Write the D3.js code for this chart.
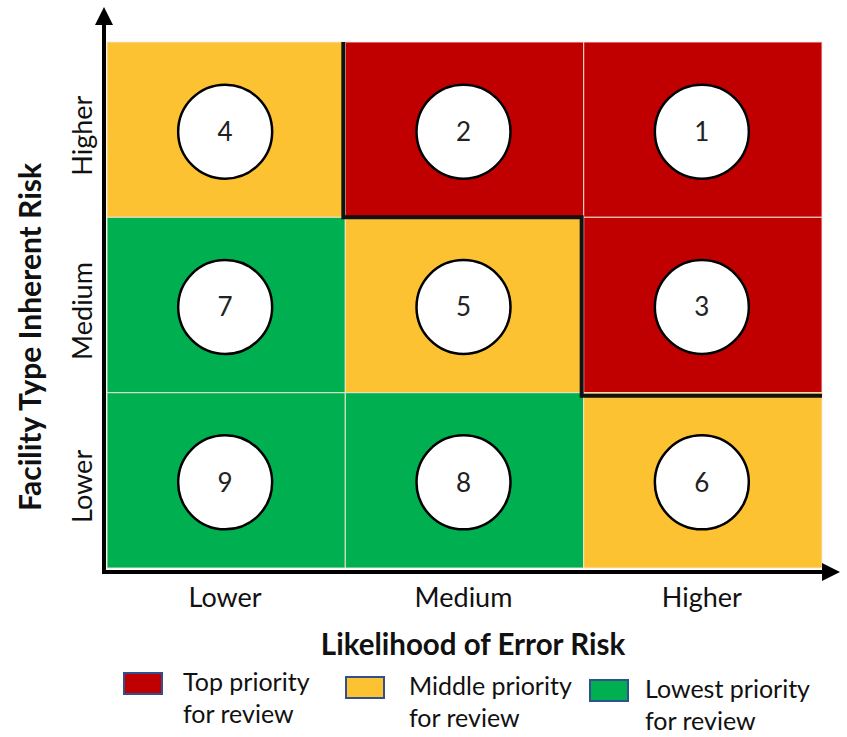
<!DOCTYPE html>
<html>
<head>
<meta charset="utf-8">
<script src="https://cdn.jsdelivr.net/npm/d3@7"></script>
<style>
  html, body { margin: 0; padding: 0; background: #ffffff; }
  svg { display: block; font-family: Lato, "Liberation Sans", sans-serif; }
</style>
</head>
<body>
<svg id="chart" width="847" height="737"></svg>
<script>
// ---- data ----
const likelihoodLevels = ["Lower", "Medium", "Higher"];          // x categories
const inherentLevels = ["Higher", "Medium", "Lower"];             // y categories (top to bottom)
const rankHigher = [4, 2, 1];
const rankMedium = [7, 5, 3];
const rankLower  = [9, 8, 6];
const priorityHigher = ["middle", "top", "top"];
const priorityMedium = ["lowest", "middle", "top"];
const priorityLower  = ["lowest", "lowest", "middle"];
const priorityKeys = ["top", "middle", "lowest"];
const priorityLabels = [["Top priority", "for review"], ["Middle priority", "for review"], ["Lowest priority", "for review"]];
const priorityColors = ["#C00000", "#FCC232", "#00B050"];
const xTitle = "Likelihood of Error Risk";
const yTitle = "Facility Type Inherent Risk";

// ---- build cells ----
const rankRows = [rankHigher, rankMedium, rankLower];
const prioRows = [priorityHigher, priorityMedium, priorityLower];
const cells = [];
inherentLevels.forEach((r, i) => {
  likelihoodLevels.forEach((c, j) => {
    cells.push({ row: r, col: c, rank: rankRows[i][j], priority: prioRows[i][j] });
  });
});

const svg = d3.select("#chart");
const x = d3.scaleBand().domain(likelihoodLevels).range([107, 822]).padding(0);
const y = d3.scaleBand().domain(inherentLevels).range([42, 568]).padding(0);
const color = d3.scaleOrdinal().domain(priorityKeys).range(priorityColors);

// cells
svg.append("g").selectAll("rect").data(cells).join("rect")
  .attr("x", d => x(d.col))
  .attr("y", d => y(d.row))
  .attr("width", x.bandwidth())
  .attr("height", y.bandwidth())
  .attr("fill", d => color(d.priority))
  .attr("stroke", "#f4e8d8")
  .attr("stroke-opacity", 0.75)
  .attr("stroke-width", 1.2);

// staircase boundary around top-priority cells
const topCount = likelihoodLevels.map((c, j) => prioRows.filter(row => row[j] === "top").length);
const pts = [];
const rowEdge = k => k === 0 ? y.range()[0] : y(inherentLevels[k - 1]) + y.bandwidth() + (k === 2 ? 3 : 0);
let prev = 0;
likelihoodLevels.forEach((c, j) => {
  if (topCount[j] !== prev) {
    const xe = x(c) - 2;
    pts.push([xe, rowEdge(prev)]);
    pts.push([xe, rowEdge(topCount[j])]);
    prev = topCount[j];
  }
});
pts.push([x.range()[1], rowEdge(prev)]);
svg.append("path")
  .attr("d", d3.line()(pts))
  .attr("fill", "none")
  .attr("stroke", "#111")
  .attr("stroke-width", 4)
  .attr("stroke-linejoin", "miter");

// circles with ranks
const g = svg.append("g").selectAll("g").data(cells).join("g")
  .attr("transform", d => `translate(${x(d.col) + x.bandwidth() / 2 - 1},${y(d.row) + y.bandwidth() / 2 + 2})`);
g.append("circle").attr("r", 47).attr("fill", "#fff").attr("stroke", "#000").attr("stroke-width", 2.5);
g.append("text").text(d => d.rank)
  .attr("text-anchor", "middle").attr("dy", "0.36em")
  .attr("font-size", 26).attr("fill", "#222");

// axes with arrows
const axisX0 = 104, axisY0 = 572;
svg.append("line").attr("x1", axisX0).attr("y1", axisY0 + 2).attr("x2", axisX0).attr("y2", 22)
  .attr("stroke", "#000").attr("stroke-width", 4);
svg.append("path").attr("d", `M${axisX0 - 9},25 L${axisX0},7 L${axisX0 + 9},25 Z`).attr("fill", "#000");
svg.append("line").attr("x1", axisX0 - 2).attr("y1", axisY0).attr("x2", 824).attr("y2", axisY0)
  .attr("stroke", "#000").attr("stroke-width", 4);
svg.append("path").attr("d", `M822,${axisY0 - 9} L840,${axisY0} L822,${axisY0 + 9} Z`).attr("fill", "#000");

// tick labels
svg.append("g").selectAll("text").data(likelihoodLevels).join("text")
  .attr("x", d => x(d) + x.bandwidth() / 2 - 1)
  .attr("y", 607)
  .attr("text-anchor", "middle")
  .attr("font-size", 27).attr("fill", "#111")
  .text(d => d);
svg.append("g").selectAll("text").data(inherentLevels).join("text")
  .attr("transform", d => `translate(92,${y(d) + y.bandwidth() / 2 + 6}) rotate(-90)`)
  .attr("text-anchor", "middle")
  .attr("font-size", 27).attr("fill", "#111")
  .text(d => d);

// titles
svg.append("text").attr("x", 473).attr("y", 655).attr("text-anchor", "middle")
  .attr("font-size", 29.5).attr("font-weight", "bold").attr("fill", "#111").text(xTitle);
svg.append("text").attr("transform", "translate(41,337) rotate(-90)").attr("text-anchor", "middle")
  .attr("font-size", 30).attr("font-weight", "bold").attr("fill", "#111").text(yTitle);

// legend
const legendX = [124, 346, 590];
const legendY = [673, 677, 680];
const lg = svg.append("g").selectAll("g").data(priorityKeys).join("g")
  .attr("transform", (d, i) => `translate(${legendX[i]},${legendY[i]})`);
lg.append("rect").attr("width", 38).attr("height", 21)
  .attr("fill", d => color(d)).attr("stroke", "#2F528F").attr("stroke-width", 2);
lg.each(function(d, i) {
  const t = d3.select(this).append("text").attr("font-size", 25).attr("fill", "#111");
  priorityLabels[i].forEach((line, k) => {
    t.append("tspan").attr("x", 59 + (i === 1 ? 4 : 0) - (i === 2 ? 4 : 0)).attr("y", 18 + k * 32).text(line);
  });
});
</script>
</body>
</html>
